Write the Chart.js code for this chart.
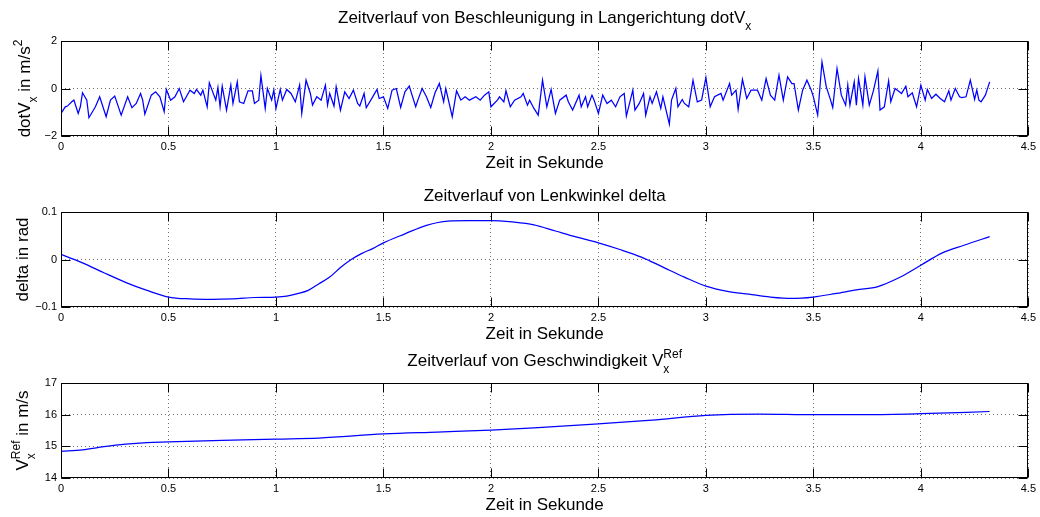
<!DOCTYPE html>
<html>
<head>
<meta charset="utf-8">
<script src="https://cdn.jsdelivr.net/npm/chart.js@4.4.1/dist/chart.umd.min.js"></script>
<style>
    html, body { margin: 0; padding: 0; background: #fff; }
    #wrap { position: relative; width: 1040px; height: 517px; }
    #wrap canvas { position: absolute; left: 0; top: 0; }
</style>
</head>
<body>
<div id="wrap">
    <canvas id="accChart" width="1040" height="517"></canvas>
    <canvas id="deltaChart" width="1040" height="517"></canvas>
    <canvas id="speedChart" width="1040" height="517"></canvas>
</div>
<script>
// Längsbeschleunigung dotV_x [m/s^2] über der Zeit [s]
const accTime = [
    0.00, 0.02, 0.03, 0.05, 0.06, 0.08, 0.09, 0.10, 0.12, 0.13, 0.16, 0.18, 0.21, 0.23, 0.25, 0.28,
    0.31, 0.33, 0.35, 0.37, 0.38, 0.39, 0.42, 0.44, 0.46, 0.48, 0.49, 0.51, 0.53, 0.55, 0.57, 0.60,
    0.62, 0.63, 0.65, 0.66, 0.68, 0.69, 0.72, 0.73, 0.74, 0.75, 0.77, 0.79, 0.80, 0.82, 0.83, 0.85,
    0.87, 0.89, 0.90, 0.92, 0.93, 0.95, 0.96, 0.98, 0.99, 1.00, 1.02, 1.03, 1.05, 1.07, 1.09, 1.11,
    1.12, 1.14, 1.16, 1.17, 1.19, 1.21, 1.23, 1.24, 1.25, 1.27, 1.28, 1.30, 1.32, 1.34, 1.36, 1.38,
    1.39, 1.41, 1.42, 1.45, 1.47, 1.48, 1.50, 1.52, 1.54, 1.56, 1.58, 1.60, 1.62, 1.65, 1.66, 1.68,
    1.70, 1.72, 1.74, 1.76, 1.78, 1.79, 1.82, 1.84, 1.86, 1.88, 1.90, 1.93, 1.95, 1.97, 1.99, 2.00,
    2.03, 2.04, 2.06, 2.07, 2.09, 2.11, 2.14, 2.15, 2.17, 2.18, 2.20, 2.22, 2.24, 2.26, 2.28, 2.30,
    2.32, 2.35, 2.36, 2.38, 2.41, 2.42, 2.44, 2.45, 2.47, 2.48, 2.50, 2.52, 2.54, 2.56, 2.58, 2.60,
    2.62, 2.63, 2.66, 2.67, 2.69, 2.71, 2.72, 2.74, 2.75, 2.77, 2.79, 2.80, 2.83, 2.84, 2.86, 2.87,
    2.89, 2.90, 2.92, 2.94, 2.96, 2.98, 3.00, 3.02, 3.04, 3.07, 3.08, 3.11, 3.12, 3.14, 3.15, 3.17,
    3.19, 3.21, 3.24, 3.26, 3.28, 3.30, 3.32, 3.34, 3.36, 3.38, 3.40, 3.41, 3.43, 3.45, 3.47, 3.49,
    3.50, 3.52, 3.54, 3.56, 3.58, 3.59, 3.61, 3.63, 3.65, 3.66, 3.67, 3.69, 3.70, 3.71, 3.73, 3.74,
    3.76, 3.78, 3.80, 3.81, 3.83, 3.85, 3.86, 3.88, 3.90, 3.91, 3.93, 3.94, 3.96, 3.98, 4.00, 4.02,
    4.03, 4.05, 4.07, 4.09, 4.11, 4.13, 4.14, 4.16, 4.18, 4.19, 4.21, 4.23, 4.25, 4.26, 4.27, 4.28,
    4.30, 4.32
];
const accValue = [
    -1.05, -0.77, -0.74, -0.56, -0.49, -1.05, -0.77, -0.18, -0.49, -1.23, -0.77, -0.35, -1.19, -0.49, -0.32, -1.12,
    -0.35, -0.81, -0.63, -0.21, -0.49, -1.08, -0.28, -0.14, -0.35, -0.98, -0.04, -0.49, -0.35, 0.00, -0.56, -0.07,
    -0.21, -0.04, -0.28, -0.07, -0.77, 0.24, -0.49, 0.04, -0.77, 0.10, -0.91, 0.14, -0.63, 0.28, -0.56, -0.63,
    -0.10, -0.10, -0.63, -0.49, 0.55, -0.84, 0.00, -0.49, -0.07, -0.84, -0.04, -0.49, -0.04, -0.21, -0.56, 0.14,
    -1.05, 0.35, -0.21, -0.70, -0.35, -0.49, 0.14, -0.70, -0.21, -0.74, 0.07, -0.91, -0.14, -0.42, -0.07, -0.63,
    -0.74, -0.21, -0.81, -0.35, -0.04, -0.42, -0.35, -0.84, -0.07, 0.00, -0.80, -0.14, 0.10, -0.77, -0.49, 0.00,
    -0.35, -0.80, -0.18, 0.21, -0.56, 0.00, -1.19, -0.10, -0.49, -0.35, -0.49, -0.35, -0.49, -0.28, -0.14, -0.77,
    -0.49, -0.35, -0.56, -0.10, -0.77, -0.49, -0.35, -0.21, -0.70, -0.49, -0.84, -1.12, 0.35, -0.77, -0.04, -1.05,
    -0.49, -0.28, -0.56, -0.91, -0.28, -0.77, -0.35, -0.77, -0.28, -0.49, -1.05, -0.28, -0.63, -0.49, -0.77, -0.35,
    -0.21, -1.16, -0.07, -0.91, -0.63, -0.21, -1.12, -0.35, -0.63, -0.14, -0.84, -0.35, -1.50, -0.49, 0.00, -0.77,
    -0.46, -0.63, -0.77, 0.35, -0.56, -0.49, 0.46, -0.77, -0.35, -0.21, -0.49, 0.21, -0.28, -0.07, -0.88, 0.38,
    -0.42, -0.07, -0.07, -0.49, 0.42, -0.28, -0.49, 0.56, -0.49, 0.49, 0.21, 0.21, -0.91, -0.07, 0.35, -0.07,
    -0.35, -1.12, 1.12, 0.07, -0.49, -0.80, 0.84, -0.28, -0.70, 0.14, -0.70, 0.28, -0.70, 0.42, -0.70, 0.49,
    -0.70, -0.07, 0.74, -0.91, -0.77, 0.32, -0.56, 0.00, -0.14, -0.21, 0.10, -0.35, -0.18, -0.77, 0.14, -0.49,
    -0.04, -0.42, -0.24, -0.42, -0.56, -0.10, -0.49, 0.00, -0.35, -0.38, -0.35, 0.35, -0.46, -0.07, -0.49, -0.56,
    -0.28, 0.28
];

// Lenkwinkel delta [rad]
const deltaTime = [
    0, 0.05, 0.1, 0.2, 0.3, 0.4, 0.5, 0.6, 0.7, 0.8, 0.9, 1.0, 1.05, 1.1, 1.15, 1.2, 1.25, 1.3, 1.35, 1.4,
    1.45, 1.5, 1.6, 1.7, 1.8, 1.9, 2.0, 2.1, 2.2, 2.3, 2.4, 2.5, 2.6, 2.7, 2.8, 2.9, 3.0, 3.1, 3.2, 3.3,
    3.4, 3.5, 3.6, 3.7, 3.8, 3.9, 4.0, 4.1, 4.2, 4.32
];
const deltaValue = [
    0.011, 0.002, -0.007, -0.028, -0.048, -0.065, -0.079, -0.083, -0.084, -0.083, -0.080, -0.079, -0.077, -0.072, -0.065, -0.051, -0.037, -0.017, 0.000, 0.013,
    0.023, 0.035, 0.054, 0.072, 0.081, 0.082, 0.082, 0.079, 0.073, 0.060, 0.047, 0.035, 0.021, 0.005, -0.016, -0.037, -0.056, -0.067, -0.073, -0.079,
    -0.082, -0.079, -0.072, -0.064, -0.057, -0.038, -0.012, 0.014, 0.030, 0.048
];

// Referenzgeschwindigkeit V_x^Ref [m/s]
const speedTime = [0, 0.1, 0.2, 0.3, 0.4, 0.5, 0.75, 1.0, 1.2, 1.5, 1.75, 2.0, 2.2, 2.5, 2.75, 3.0, 3.25, 3.5, 3.75, 4.0, 4.32];
const speedValue = [14.84, 14.89, 14.99, 15.07, 15.12, 15.14, 15.19, 15.23, 15.26, 15.39, 15.45, 15.51, 15.58, 15.71, 15.83, 15.98, 16.02, 16.00, 16.00, 16.03, 16.10];

// Achsen
const timeTicks = [0, 0.5, 1, 1.5, 2, 2.5, 3, 3.5, 4, 4.5];
const xLabel = 'Zeit in Sekunde';

const FONT = '"Liberation Sans", Arial, Helvetica, sans-serif';
const BIG = '17px ' + FONT;
const SMALL = '12px ' + FONT;
Chart.defaults.font.family = FONT;

// Text mit Tief-/Hochstellung: Strings oder {sub, sup}
function richWidth(ctx, parts) {
    let w = 0;
    parts.forEach(p => {
        if (typeof p === 'string') {
            ctx.font = BIG;
            w += ctx.measureText(p).width;
        } else {
            ctx.font = SMALL;
            w += Math.max(p.sub ? ctx.measureText(p.sub).width : 0, p.sup ? ctx.measureText(p.sup).width : 0);
        }
    });
    return w;
}

function drawRich(ctx, parts, cx, baseY) {
    let x = cx - richWidth(ctx, parts) / 2;
    ctx.textAlign = 'left';
    ctx.textBaseline = 'alphabetic';
    ctx.fillStyle = '#000';
    parts.forEach(p => {
        if (typeof p === 'string') {
            ctx.font = BIG;
            ctx.fillText(p, x, baseY);
            x += ctx.measureText(p).width;
        } else {
            ctx.font = SMALL;
            let w = 0;
            if (p.sub) { ctx.fillText(p.sub, x, baseY + 7); w = ctx.measureText(p.sub).width; }
            if (p.sup) { ctx.fillText(p.sup, x, baseY - 8); w = Math.max(w, ctx.measureText(p.sup).width); }
            x += w;
        }
    });
}

function fmt(v) {
    const s = String(Math.round(v * 100) / 100);
    return s.replace('-', '\u2212');
}

// Rahmen, Ticks nach innen, Titel und Achsbeschriftungen
const matlabAxes = {
    id: 'matlabAxes',
    afterDraw(chart, args, opts) {
        const ctx = chart.ctx;
        const a = chart.chartArea;
        const xs = chart.scales.x, ys = chart.scales.y;
        const L = Math.round(a.left) + 0.5, R = Math.round(a.right) - 0.5;
        const T = Math.round(a.top) + 0.5, B = Math.round(a.bottom) - 0.5;
        const tick = 9;
        ctx.save();
        ctx.strokeStyle = '#000';
        ctx.lineWidth = 1;
        ctx.setLineDash([]);
        ctx.beginPath();
        xs.ticks.forEach(t => {
            const px = Math.round(xs.getPixelForValue(t.value)) + 0.5;
            ctx.moveTo(px, T); ctx.lineTo(px, T + tick);
            ctx.moveTo(px, B); ctx.lineTo(px, B - tick);
        });
        ys.ticks.forEach(t => {
            const py = Math.round(ys.getPixelForValue(t.value)) + 0.5;
            ctx.moveTo(L, py); ctx.lineTo(L + tick, py);
            ctx.moveTo(R, py); ctx.lineTo(R - tick, py);
        });
        ctx.stroke();
        ctx.strokeRect(L, T, R - L, B - T);

        const cx = (a.left + a.right) / 2;
        drawRich(ctx, opts.title, cx, opts.titleY);
        drawRich(ctx, [xLabel], cx, a.bottom + 32);

        ctx.translate(opts.yLabelX, (a.top + a.bottom) / 2);
        ctx.rotate(-Math.PI / 2);
        drawRich(ctx, opts.yLabel, 0, 0);
        ctx.restore();
    }
};

const panels = [
    {
        id: 'accChart', time: accTime, values: accValue, top: 41, bottom: 136,
        yMin: -2, yMax: 2, yStep: 2, smooth: false,
        title: ['Zeitverlauf von Beschleunigung in Langerichtung dotV', { sub: 'x' }], titleY: 23,
        yLabel: ['dotV', { sub: 'x' }, ' in m/s', { sup: '2' }], yLabelX: 30
    },
    {
        id: 'deltaChart', time: deltaTime, values: deltaValue, top: 212, bottom: 307,
        yMin: -0.1, yMax: 0.1, yStep: 0.1, smooth: true,
        title: ['Zeitverlauf von Lenkwinkel delta'], titleY: 201,
        yLabel: ['delta in rad'], yLabelX: 28
    },
    {
        id: 'speedChart', time: speedTime, values: speedValue, top: 383, bottom: 478,
        yMin: 14, yMax: 17, yStep: 1, smooth: true,
        title: ['Zeitverlauf von Geschwindigkeit V', { sub: 'x', sup: 'Ref' }], titleY: 366,
        yLabel: ['V', { sub: 'x', sup: 'Ref' }, ' in m/s'], yLabelX: 28
    }
];

const X_AXIS_H = 20;

panels.forEach(p => {
    const points = p.time.map((t, i) => ({ x: t, y: p.values[i] }));
    new Chart(document.getElementById(p.id), {
        type: 'line',
        data: {
            datasets: [{
                data: points,
                borderColor: '#0000ff',
                borderWidth: 1.25,
                pointRadius: 0,
                fill: false,
                cubicInterpolationMode: p.smooth ? 'monotone' : 'default',
                tension: 0
            }]
        },
        options: {
            responsive: false,
            animation: false,
            devicePixelRatio: 1,
            events: [],
            layout: { padding: { top: p.top, left: 0, right: 11, bottom: 517 - p.bottom - X_AXIS_H } },
            plugins: {
                legend: { display: false },
                tooltip: { enabled: false },
                matlabAxes: { title: p.title, titleY: p.titleY, yLabel: p.yLabel, yLabelX: p.yLabelX }
            },
            scales: {
                x: {
                    type: 'linear',
                    min: 0,
                    max: 4.5,
                    afterBuildTicks: s => { s.ticks = timeTicks.map(v => ({ value: v })); },
                    afterFit: s => { s.height = X_AXIS_H; },
                    ticks: { color: '#000', font: { size: 11 }, padding: 4, maxRotation: 0, autoSkip: false, callback: v => fmt(v) },
                    grid: { color: 'rgba(0,0,0,0.55)', drawTicks: false },
                    border: { display: false, dash: [1, 3] }
                },
                y: {
                    min: p.yMin,
                    max: p.yMax,
                    ticks: { stepSize: p.yStep, color: '#000', font: { size: 11 }, padding: 4, callback: v => fmt(v) },
                    afterFit: s => { s.width = 61; },
                    grid: { color: 'rgba(0,0,0,0.55)', drawTicks: false },
                    border: { display: false, dash: [1, 3] }
                }
            }
        },
        plugins: [matlabAxes]
    });
});
</script>
</body>
</html>
